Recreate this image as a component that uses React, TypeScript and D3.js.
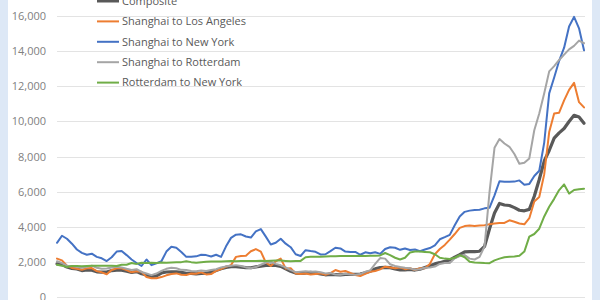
import React from "react";
import * as d3 from "d3";

const seriesNames = [
  "Composite",
  "Shanghai to Los Angeles",
  "Shanghai to New York",
  "Shanghai to Rotterdam",
  "Rotterdam to New York",
];

const composite = [
  1900, 1880, 1720, 1640, 1610, 1520, 1560, 1540, 1450, 1430,
  1440, 1520, 1550, 1540, 1480, 1420, 1460, 1340, 1270, 1180,
  1220, 1380, 1440, 1450, 1450, 1420, 1360, 1360, 1330, 1360,
  1380, 1420, 1530, 1620, 1700, 1740, 1740, 1720, 1690, 1680,
  1730, 1770, 1810, 1830, 1810, 1760, 1620, 1480, 1380, 1360,
  1380, 1420, 1380, 1330, 1280, 1300, 1290, 1280, 1300, 1310,
  1300, 1320, 1400, 1480, 1620, 1690, 1700, 1690, 1610, 1560,
  1560, 1580, 1550, 1600, 1700, 1790, 1900, 1970, 2050, 2120,
  2280, 2420, 2580, 2600, 2600, 2620, 2900, 3900, 4800, 5340,
  5250, 5220, 5100, 4950, 4920, 5000, 5750, 6700, 7750, 8350,
  9050, 9350, 9600, 10000, 10350, 10250, 9900,
];

const shanghaiLosAngeles = [
  2200, 2100, 1800, 1670, 1620, 1560, 1650, 1660, 1490, 1420,
  1310, 1550, 1650, 1650, 1550, 1420, 1480, 1450, 1150, 1080,
  1080, 1150, 1250, 1330, 1360, 1280, 1270, 1350, 1340, 1420,
  1300, 1320, 1500, 1600, 1740, 1830, 2300, 2350, 2370, 2620,
  2740, 2600, 1980, 1780, 2050, 2200, 1640, 1650, 1360, 1320,
  1350, 1300, 1330, 1360, 1280, 1380, 1550, 1450, 1500, 1380,
  1270, 1210, 1330, 1450, 1500, 1590, 1740, 1700, 1650, 1700,
  1600, 1650, 1550, 1650, 1650, 1900, 2450, 2750, 2980, 3280,
  3600, 3950, 4050, 4080, 4060, 4080, 4100, 4150, 4200, 4220,
  4230, 4380, 4300, 4200, 4150, 4500, 5450, 5700, 7000, 9400,
  10450, 10500, 11200, 11800, 12200, 11100, 10800,
];

const shanghaiNewYork = [
  3100, 3500, 3330, 3050, 2720, 2530, 2420, 2480, 2300, 2220,
  2060, 2280, 2600, 2630, 2400, 2150, 1950, 1780, 2150, 1830,
  1930, 2050, 2600, 2870, 2820, 2580, 2300, 2300, 2330, 2420,
  2400, 2320, 2420, 2300, 2900, 3380, 3560, 3580, 3460, 3400,
  3750, 3880, 3450, 3000, 3100, 3330, 3050, 2850, 2450, 2350,
  2680, 2630, 2590, 2440, 2450, 2630, 2820, 2780, 2600, 2570,
  2580, 2420, 2560, 2500, 2560, 2470, 2750, 2850, 2820, 2700,
  2780, 2690, 2720, 2620, 2720, 2800, 2950, 3300, 3420, 3550,
  4100, 4600, 4860, 4930, 4960, 4980, 5060, 5100, 5800, 6600,
  6570, 6570, 6580, 6650, 6400, 6450, 6900, 7200, 8800, 11600,
  12500, 13450, 14200, 15400, 15950, 15300, 14050,
];

const shanghaiRotterdam = [
  2050, 1950, 1800, 1780, 1740, 1680, 1730, 1800, 1680, 1620,
  1640, 1700, 1740, 1700, 1620, 1560, 1600, 1440, 1350, 1260,
  1350, 1500, 1620, 1680, 1650, 1560, 1550, 1500, 1480, 1530,
  1500, 1550, 1600, 1700, 1760, 1800, 1830, 1780, 1700, 1650,
  1720, 1850, 1980, 2020, 1900, 1820, 1700, 1550, 1430, 1460,
  1480, 1450, 1470, 1420, 1360, 1380, 1300, 1280, 1340, 1300,
  1280, 1320, 1450, 1530, 1900, 2230, 2200, 1880, 1780, 1720,
  1680, 1650, 1560, 1600, 1680, 1700, 1750, 1900, 1950, 1950,
  2220, 2350, 2400, 2200, 2150, 2300, 2900, 6000, 8500, 9000,
  8750, 8560, 8150, 7600, 7650, 7900, 9500, 10450, 11600, 12850,
  13150, 13500, 13800, 14100, 14300, 14600, 14450,
];

const rotterdamNewYork = [
  1850, 1800, 1720, 1780, 1780, 1760, 1780, 1800, 1800, 1800,
  1790, 1800, 1780, 1850, 1850, 1950, 1900, 1960, 1950, 1970,
  1950, 1980, 1960, 1980, 1990, 2000, 2050, 2000, 1960, 2000,
  2020, 2030, 2040, 2040, 2050, 2060, 2050, 2060, 2070, 2070,
  2070, 2080, 2070, 2080, 2090, 2090, 2070, 2050, 2060, 2070,
  2280, 2300, 2300, 2310, 2320, 2330, 2340, 2350, 2350, 2350,
  2350, 2360, 2350, 2360, 2360, 2380, 2520, 2400, 2250, 2150,
  2250, 2550, 2600, 2600, 2580, 2560, 2450, 2250, 2200, 2180,
  2250, 2400, 2280, 2020, 1980, 1970, 1950, 1940, 2100, 2200,
  2280, 2300, 2320, 2360, 2600, 3450, 3600, 3900, 4600, 5150,
  5600, 6100, 6420, 5900, 6100, 6150, 6180,
];

const yTicks = [0, 2000, 4000, 6000, 8000, 10000, 12000, 14000, 16000];

const seriesValues = [composite, shanghaiLosAngeles, shanghaiNewYork, shanghaiRotterdam, rotterdamNewYork];
const colors = ["#595959", "#ED7D31", "#4472C4", "#A5A5A5", "#70AD47"];
const widths = [3.2, 2, 2, 2, 2];

export default function App() {
  const W = 600, H = 300;
  const x = d3.scaleLinear().domain([0, composite.length - 1]).range([57, 584]);
  const y = d3.scaleLinear().domain([0, 16000]).range([297.3, 16]);
  const line = d3.line<number>().x((_, i) => x(i)).y((d) => y(d));
  const fmt = d3.format(",");
  const font = "'Open Sans', 'Liberation Sans', sans-serif";

  return (
    <svg width={W} height={H} style={{ position: "absolute", left: 0, top: 0 }}>
      <rect x={0} y={0} width={W} height={H} fill="#dde8f6" />
      <rect x={8} y={0} width={584} height={H} fill="#ffffff" />
      {yTicks.map((t) => (
        <g key={t}>
          <line x1={57} x2={585} y1={Math.round(y(t)) + 0.5} y2={Math.round(y(t)) + 0.5} stroke="#e3e3e3" strokeWidth={1} />
          <text x={46} y={y(t)} dy="0.35em" textAnchor="end" fontFamily={font} fontSize={11} fill="#7f7f7f">
            {fmt(t)}
          </text>
        </g>
      ))}
      {seriesValues.map((vals, k) => (
        <path key={k} d={line(vals) || ""} fill="none" stroke={colors[k]} strokeWidth={widths[k]} strokeLinejoin="round" strokeLinecap="round" />
      ))}
      {seriesNames.map((name, k) => {
        const cy = 1 + k * 20.4;
        return (
          <g key={name}>
            <line x1={97} x2={119} y1={cy} y2={cy} stroke={colors[k]} strokeWidth={k === 0 ? 3 : 2} />
            <text x={122} y={cy} dy="0.35em" fontFamily={font} fontSize={11} fill="#595959">
              {name}
            </text>
          </g>
        );
      })}
    </svg>
  );
}
